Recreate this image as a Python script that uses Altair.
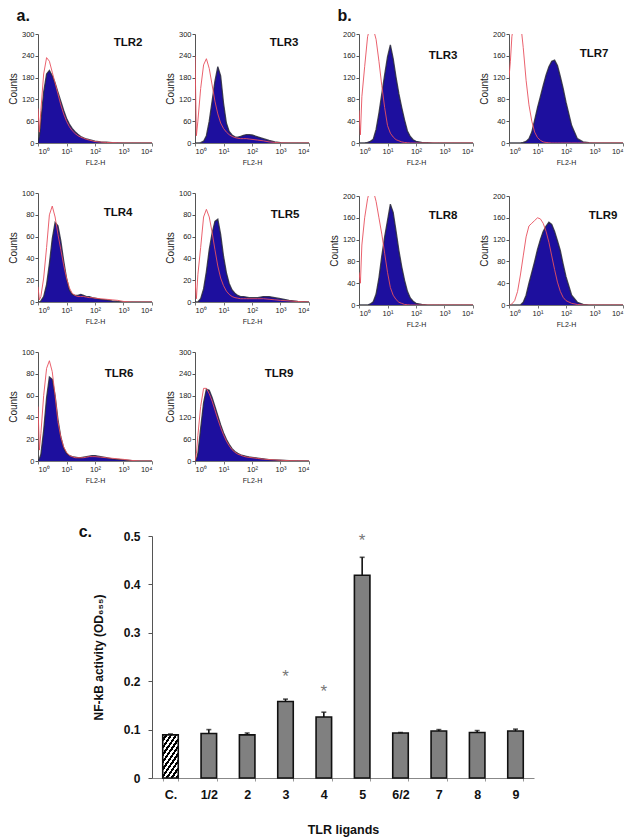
import altair as alt
import pandas as pd

# ---------------- flow cytometry histograms ----------------
FL2H = [1.0, 1.12, 1.26, 1.58, 2.0, 2.51, 3.16, 3.98, 5.01, 6.31, 7.94, 10.0, 12.6, 15.8,
        20.0, 25.1, 31.6, 39.8, 50.1, 63.1, 79.4, 100.0, 158.0, 251.0, 398.0, 631.0,
        1000.0, 2000.0, 3980.0, 10000.0]

a_TLR2_blue = [0, 20, 60, 140, 190, 200, 185, 165, 140, 115, 90, 68, 52, 40, 31, 24, 18, 14, 11, 9, 7, 5, 3, 2, 1, 0.5, 0, 0, 0, 0]
a_TLR2_red = [95, 30, 90, 190, 235, 225, 195, 165, 135, 105, 80, 60, 45, 34, 26, 20, 16, 13, 10, 8, 6, 4, 2.5, 1.5, 1, 0.5, 0, 0, 0, 0]
a_TLR3_blue = [0, 0, 0, 1, 5, 20, 60, 115, 170, 210, 185, 110, 55, 32, 22, 17, 16, 18, 21, 23, 23, 22, 17, 12, 7, 3, 1, 0, 0, 0]
a_TLR3_red = [240, 20, 60, 150, 215, 232, 205, 160, 115, 80, 55, 40, 30, 23, 18, 15, 13, 12, 12, 12, 11, 10, 8, 6, 3, 1.5, 0.5, 0, 0, 0]
a_TLR4_blue = [0, 0, 1, 5, 16, 35, 58, 73, 70, 56, 38, 22, 11, 7, 6, 6, 7, 6, 5, 5, 4, 3.5, 2.5, 2, 1, 0.5, 0, 0, 0, 0]
a_TLR4_red = [14, 2, 5, 22, 50, 80, 88, 78, 62, 48, 34, 22, 13, 8, 6, 5, 5, 5, 4.5, 4, 4, 3.5, 3, 2.5, 2, 1.5, 0.5, 0, 0, 0]
a_TLR5_blue = [0, 0, 0, 3, 12, 28, 48, 63, 74, 76, 62, 42, 27, 17, 11, 8, 6, 5, 5, 4.5, 4, 4, 4, 5, 5, 4, 3, 1.5, 0.5, 0]
a_TLR5_red = [20, 3, 25, 50, 78, 85, 78, 64, 48, 33, 22, 15, 10, 7, 5, 4, 3.5, 3, 3, 3, 3, 3, 3, 3, 2.5, 2, 1.5, 1, 0.5, 0]
a_TLR6_blue = [0, 2, 6, 28, 58, 77, 75, 60, 38, 22, 12, 7, 5, 4, 3.5, 3, 3, 3.5, 4, 4.5, 5, 5, 4, 3, 2, 1.5, 1, 0.3, 0, 0]
a_TLR6_red = [50, 10, 25, 60, 85, 92, 82, 60, 36, 22, 13, 8, 5, 4, 3, 3, 3, 3, 3.5, 4, 4, 4, 3.5, 3, 2.5, 2, 1.5, 0.5, 0, 0]
a_TLR9_blue = [0, 5, 20, 90, 160, 198, 195, 175, 150, 125, 100, 78, 60, 46, 34, 26, 21, 17, 15, 13, 11, 10, 8, 6, 4, 3, 2, 1, 0.5, 0]
a_TLR9_red = [0, 20, 70, 150, 200, 200, 185, 165, 140, 115, 92, 72, 55, 42, 31, 24, 19, 16, 13, 11, 10, 9, 7, 5, 4, 3, 2, 1, 0.5, 0]

b_TLR3_blue = [0, 0, 0, 0, 1, 3, 7, 25, 55, 90, 125, 158, 180, 155, 120, 90, 65, 42, 22, 12, 6, 3, 1, 0.5, 0, 0, 0, 0, 0, 0]
b_TLR3_red = [60, 15, 85, 140, 195, 215, 210, 190, 150, 105, 65, 32, 18, 11, 6, 4, 2, 1, 0.5, 0, 0, 0, 0, 0, 0, 0, 0, 0, 0, 0]
b_TLR7_blue = [0, 0, 0, 0, 0, 0, 1, 3, 8, 20, 42, 65, 85, 105, 125, 140, 150, 152, 142, 122, 100, 75, 32, 8, 2, 0.5, 0, 0, 0, 0]
b_TLR7_red = [120, 150, 195, 230, 240, 225, 175, 115, 70, 40, 20, 10, 5, 2, 1, 0.5, 0, 0, 0, 0, 0, 0, 0, 0, 0, 0, 0, 0, 0, 0]
b_TLR8_blue = [0, 0, 0, 0, 0, 2, 6, 20, 50, 90, 125, 155, 185, 170, 135, 100, 70, 45, 25, 13, 7, 3, 1, 0, 0, 0, 0, 0, 0, 0]
b_TLR8_red = [60, 40, 110, 160, 195, 215, 210, 190, 160, 130, 95, 60, 32, 18, 10, 5, 3, 1, 0.5, 0, 0, 0, 0, 0, 0, 0, 0, 0, 0, 0]
b_TLR9_blue = [0, 0, 0, 0, 0, 0, 5, 18, 40, 60, 80, 102, 120, 135, 145, 152, 148, 135, 118, 100, 75, 52, 18, 5, 1, 0, 0, 0, 0, 0]
b_TLR9_red = [0, 0, 2, 8, 25, 55, 90, 125, 145, 150, 155, 160, 158, 150, 135, 115, 90, 65, 42, 25, 14, 8, 3, 1, 0, 0, 0, 0, 0, 0]

X_TICKS = [1, 10, 100, 1000, 10000]
Y_TICKS_300 = [0, 60, 120, 180, 240, 300]
Y_TICKS_100 = [0, 20, 40, 60, 80, 100]
Y_TICKS_200 = [0, 40, 80, 120, 160, 200]

# ---------------- NF-kB bar chart ----------------
ligands = ["C.", "1/2", "2", "3", "4", "5", "6/2", "7", "8", "9"]
activity = [0.089, 0.092, 0.089, 0.158, 0.126, 0.419, 0.093, 0.097, 0.094, 0.097]
error = [0.002, 0.008, 0.004, 0.005, 0.010, 0.037, 0.001, 0.003, 0.004, 0.004]
star_ligands = ["3", "4", "5"]
star_level = [0.219, 0.189, 0.500]
y_ticks_c = [0, 0.1, 0.2, 0.3, 0.4, 0.5]

# ---------------- style ----------------
FONT = "Liberation Sans"
BLUE = "#1d0f9e"
EDGE = "#2a2a3a"
RED = "#e8505e"
PW, PH = 114, 109

SUP = "datum.value == 1 ? '10⁰' : datum.value == 10 ? '10¹' : datum.value == 100 ? '10²' : datum.value == 1000 ? '10³' : '10⁴'"


def hist(name, blue, red, ymax, yticks, lx, ly, counts_visible=True):
    dblue = pd.DataFrame({"FL2-H": FL2H, "count": blue})
    dred = pd.DataFrame({"FL2-H": FL2H, "count": red})
    x = alt.X("FL2-H:Q",
              scale=alt.Scale(type="log", domain=[1, 10000], nice=False),
              axis=alt.Axis(values=X_TICKS, labelExpr=SUP, title="FL2-H",
                            labelFontSize=7.5, titleFontSize=7, titleFontWeight="normal",
                            labelFont=FONT, titleFont=FONT, tickSize=3, labelPadding=1,
                            titlePadding=4, domainColor="#777", tickColor="#777",
                            labelColor="#222", titleColor="#222", grid=False))
    y = alt.Y("count:Q",
              scale=alt.Scale(domain=[0, ymax], nice=False),
              axis=alt.Axis(values=yticks, title="Counts", labelFontSize=7.5,
                            titleFontSize=10, titleFontWeight="normal", labelFont=FONT,
                            titleFont=FONT, tickSize=3, labelPadding=1, titlePadding=3,
                            domainColor="#555", tickColor="#555", labelColor="#222",
                            titleColor="#222", titleOpacity=1 if counts_visible else 0,
                            grid=False))
    area = alt.Chart(dblue).mark_area(color=BLUE, clip=True, opacity=1).encode(x=x, y=y)
    edge = alt.Chart(dblue).mark_line(color=EDGE, strokeWidth=1.3, clip=True, opacity=0.85).encode(x=x, y=y)
    redl = alt.Chart(dred).mark_line(color=RED, strokeWidth=0.9, clip=True).encode(x=x, y=y)
    lab = alt.Chart(pd.DataFrame({"t": [name]})).mark_text(
        font=FONT, fontSize=11.5, fontWeight="bold", color="#111", align="center",
        baseline="middle").encode(text="t:N", x=alt.value(lx), y=alt.value(ly))
    return alt.layer(area, edge, redl, lab).properties(width=PW, height=PH)


pa = alt.vconcat(
    alt.hconcat(hist("TLR2", a_TLR2_blue, a_TLR2_red, 300, Y_TICKS_300, 90, 9),
                hist("TLR3", a_TLR3_blue, a_TLR3_red, 300, Y_TICKS_300, 89, 9), spacing=12),
    alt.hconcat(hist("TLR4", a_TLR4_blue, a_TLR4_red, 100, Y_TICKS_100, 80, 20),
                hist("TLR5", a_TLR5_blue, a_TLR5_red, 100, Y_TICKS_100, 90, 22), spacing=12),
    alt.hconcat(hist("TLR6", a_TLR6_blue, a_TLR6_red, 100, Y_TICKS_100, 81, 22),
                hist("TLR9", a_TLR9_blue, a_TLR9_red, 300, Y_TICKS_300, 84, 22), spacing=12),
    spacing=23,
    title=alt.TitleParams("a.", anchor="start", fontSize=16, fontWeight="bold", font=FONT,
                          dx=8, offset=6, color="#111"),
)

pb = alt.vconcat(
    alt.hconcat(hist("TLR3", b_TLR3_blue, b_TLR3_red, 200, Y_TICKS_200, 84, 22, counts_visible=False),
                hist("TLR7", b_TLR7_blue, b_TLR7_red, 200, Y_TICKS_200, 85, 20), spacing=5),
    alt.hconcat(hist("TLR8", b_TLR8_blue, b_TLR8_red, 200, Y_TICKS_200, 84, 20),
                hist("TLR9", b_TLR9_blue, b_TLR9_red, 200, Y_TICKS_200, 94, 20), spacing=5),
    spacing=26,
    title=alt.TitleParams("b.", anchor="start", fontSize=16, fontWeight="bold", font=FONT,
                          dx=8, offset=6, color="#111"),
)

# ---------------- panel c ----------------
bar_df = pd.DataFrame({"ligand": ligands, "activity": activity, "error": error,
                       "top": [v + e for v, e in zip(activity, error)]})
star_df = pd.DataFrame({"ligand": star_ligands, "level": star_level, "s": ["*"] * 3})

xc = alt.X("ligand:N", sort=ligands,
           scale=alt.Scale(paddingInner=0.595, paddingOuter=0.28),
           axis=alt.Axis(title="TLR ligands", labelAngle=0, labelFontSize=12.5,
                         labelFontWeight="bold", titleFontSize=12.5, titleFontWeight="bold",
                         labelFont=FONT, titleFont=FONT, labelColor="#111", titleColor="#111",
                         tickBand="extent", tickSize=3, tickColor="#999", domainColor="#888",
                         labelPadding=7, titlePadding=23))
yc = alt.Y("activity:Q", scale=alt.Scale(domain=[0, 0.5], nice=False),
           axis=alt.Axis(values=y_ticks_c, format=".1~f", title="NF-kB activity (OD₆₅₅)",
                         labelFontSize=12, labelFontWeight="bold", titleFontSize=12,
                         titleFontWeight="bold", labelFont=FONT, titleFont=FONT,
                         labelColor="#111", titleColor="#111", tickSize=4, tickColor="#555",
                         domainColor="#555", labelPadding=8, titlePadding=18, grid=False))

# diagonal hatch for the control bar (stripes as a hard-stop gradient)
stops = []
n_per = 9.1
for k in range(10):
    a0 = k / n_per
    a1 = (k + 0.5) / n_per
    a2 = (k + 1) / n_per
    if a0 > 1:
        break
    stops += [alt.GradientStop(offset=min(a0, 1), color="white"),
              alt.GradientStop(offset=min(a1, 1), color="white"),
              alt.GradientStop(offset=min(a1, 1), color="black"),
              alt.GradientStop(offset=min(a2, 1), color="black")]
hatch = alt.LinearGradient(gradient="linear", stops=stops, x1=0, y1=0, x2=0.634, y2=1.194)

bars_grey = alt.Chart(bar_df).transform_filter(alt.datum.ligand != "C.").mark_bar(
    fill="#808080", stroke="#111", strokeWidth=1.6).encode(x=xc, y=yc)
bars_ctrl = alt.Chart(bar_df).transform_filter(alt.datum.ligand == "C.").mark_bar(
    fill=hatch, stroke="#111", strokeWidth=1.6).encode(x=xc, y=yc)
err_rule = alt.Chart(bar_df).mark_rule(color="#111", strokeWidth=1.6).encode(
    x=xc, y="activity:Q", y2="top:Q")
err_cap = alt.Chart(bar_df).mark_tick(color="#111", thickness=1.6, size=5).encode(
    x=xc, y="top:Q")
stars = alt.Chart(star_df).mark_text(font=FONT, fontSize=17, color="#777", dy=5).encode(
    x=alt.X("ligand:N", sort=ligands), y="level:Q", text="s:N")

pc_plot = alt.layer(bars_grey, bars_ctrl, err_rule, err_cap, stars).properties(width=382, height=242)

c_lab = alt.Chart(pd.DataFrame({"t": ["c."]})).mark_text(
    font=FONT, fontSize=16, fontWeight="bold", color="#111", align="right",
    baseline="middle").encode(text="t:N", x=alt.value(54), y=alt.value(-4)).properties(width=54, height=242)

pc = alt.hconcat(c_lab, pc_plot, spacing=0)

chart = alt.vconcat(alt.hconcat(pa, pb, spacing=19), pc, spacing=40).properties(
    padding={"left": 0, "top": 0, "right": 5, "bottom": 5}
).configure_view(stroke=None).configure_concat(spacing=10)

chart.save("out.html", embed_options={"renderer": "svg", "actions": False})
